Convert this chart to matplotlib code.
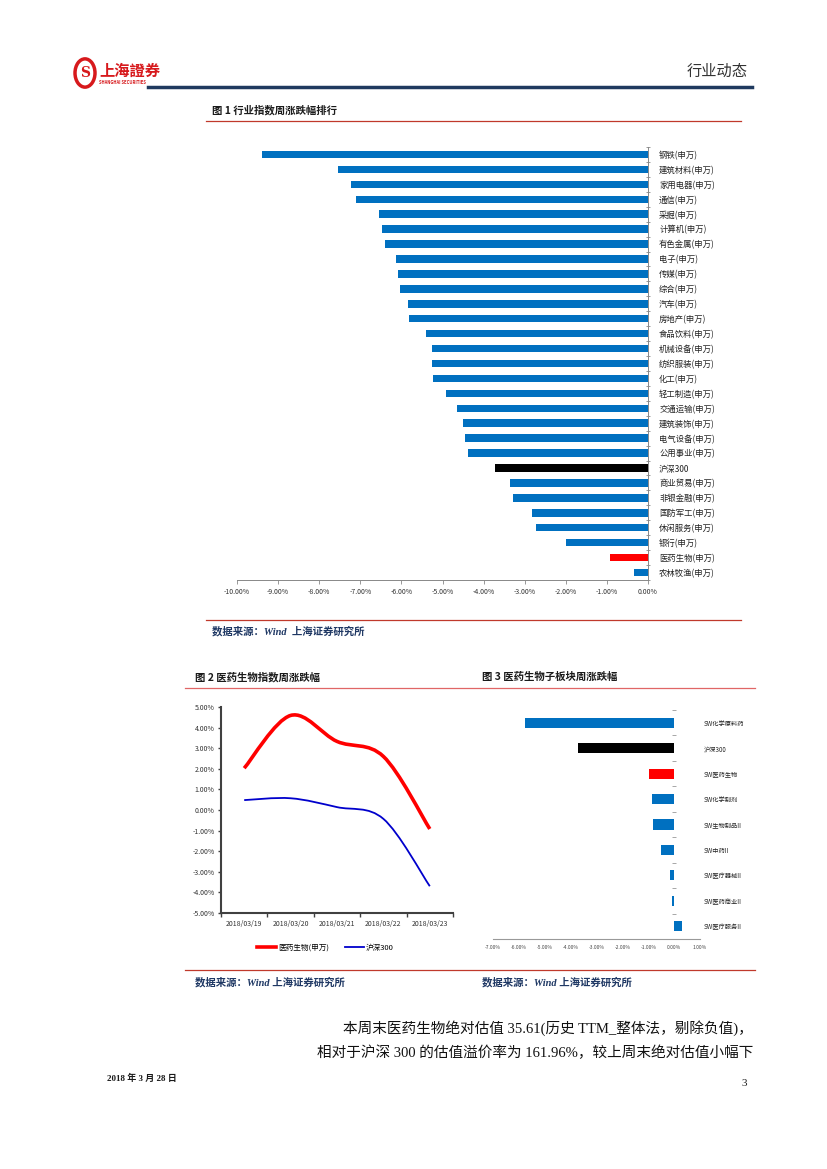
import matplotlib.pyplot as plt
import numpy as np
from matplotlib.path import Path
from matplotlib.patches import PathPatch, Circle
from matplotlib.lines import Line2D

plt.rcParams['font.family'] = ['Noto Sans CJK SC', 'DejaVu Sans']

W, H = 827, 1169

# 图1 行业指数周涨跌幅 (%)
industries = ['钢铁(申万)', '建筑材料(申万)', '家用电器(申万)', '通信(申万)', '采掘(申万)',
              '计算机(申万)', '有色金属(申万)', '电子(申万)', '传媒(申万)', '综合(申万)',
              '汽车(申万)', '房地产(申万)', '食品饮料(申万)', '机械设备(申万)', '纺织服装(申万)',
              '化工(申万)', '轻工制造(申万)', '交通运输(申万)', '建筑装饰(申万)', '电气设备(申万)',
              '公用事业(申万)', '沪深300', '商业贸易(申万)', '非银金融(申万)', '国防军工(申万)',
              '休闲服务(申万)', '银行(申万)', '医药生物(申万)', '农林牧渔(申万)']
ind_chg = [-9.39, -7.54, -7.23, -7.10, -6.55, -6.47, -6.40, -6.13, -6.08, -6.03,
           -5.84, -5.82, -5.40, -5.26, -5.26, -5.23, -4.91, -4.65, -4.50, -4.45,
           -4.38, -3.72, -3.36, -3.28, -2.82, -2.73, -2.00, -0.92, -0.34]

# 图2 医药生物指数周涨跌幅 (%)
dates = ['2018/03/19', '2018/03/20', '2018/03/21', '2018/03/22', '2018/03/23']
med_bio = [2.03, 4.59, 3.33, 2.60, -0.92]
hs300 = [0.48, 0.57, 0.14, -0.43, -3.70]

# 图3 医药生物子板块周涨跌幅 (%)
sub_names = ['SW化学原料药', '沪深300', 'SW医药生物', 'SW化学制剂', 'SW生物制品II',
             'SW中药II', 'SW医疗器械II', 'SW医药商业II', 'SW医疗服务II']
sub_chg = [-5.75, -3.73, -0.96, -0.85, -0.81, -0.50, -0.15, -0.09, 0.30]

BLUE = '#0070C0'
NAVY = '#1F3864'
RED_LINE = '#C0392B'


def bar_color(name):
    if name == '沪深300':
        return 'black'
    if name.startswith('医药生物') or name == 'SW医药生物':
        return '#FF0000'
    return BLUE


def box(x0, y0, x1, y1):
    return [x0 / W, 1 - y1 / H, (x1 - x0) / W, (y1 - y0) / H]


def hline(x0, x1, y, color, lw):
    fig.add_artist(Line2D([x0 / W, x1 / W], [1 - y / H, 1 - y / H], color=color, lw=lw))


def text(x, y, s, **kw):
    fig.text(x / W, 1 - y / H, s, **kw)


def smooth_path(xs, ys):
    # Excel-style smoothed line: Catmull-Rom turned into cubic Bezier pieces
    pts = np.column_stack([xs, ys]).astype(float)
    verts = [pts[0]]
    codes = [Path.MOVETO]
    for i in range(len(pts) - 1):
        p0 = pts[i - 1] if i > 0 else pts[i]
        p1, p2 = pts[i], pts[i + 1]
        p3 = pts[i + 2] if i + 2 < len(pts) else pts[i + 1]
        c1 = p1 + (p2 - p0) / 6
        c2 = p2 - (p3 - p1) / 6
        verts += [c1, c2, p2]
        codes += [Path.CURVE4] * 3
    return Path(verts, codes)


fig = plt.figure(figsize=(8.27, 11.69), dpi=100)

# ---- page header ----
fig.add_artist(Circle((85 / W, 1 - 73 / H), 10 / W, transform=fig.transFigure,
                      fill=False, ec='#D7191C', lw=2.5))
text(85, 73, 'S', color='#D7191C', fontsize=10, fontweight='bold', ha='center', va='center',
     family=['DejaVu Serif'])
text(99, 71, '上海證券', color='#D7191C', fontsize=11, fontweight='bold', va='center',
     family=['Noto Sans CJK TC', 'DejaVu Sans'])
text(99, 82, 'SHANGHAI SECURITIES', color='#D7191C', fontsize=3, fontweight='bold', va='center')
text(748, 71, '行业动态', color='#333333', fontsize=11, ha='right', va='center')
hline(148, 752, 87, '#1F3A5F', 2.5)

# ---- figure 1 ----
text(212, 110, '图 1 行业指数周涨跌幅排行', color='#1a1a1a', fontsize=7.5, fontweight='bold',
     va='center')
hline(206, 741, 121, RED_LINE, 0.9)

ax1 = fig.add_axes(box(237, 147, 648, 580))
n = len(industries)
ax1.barh(np.arange(n), ind_chg, height=0.5, color=[bar_color(s) for s in industries])
ax1.set_xlim(-10, 0)
ax1.set_ylim(n - 0.5, -0.5)
ax1.set_xticks(np.arange(-10, 0.5, 1))
ax1.xaxis.set_major_formatter(plt.FuncFormatter(lambda v, _: '{:.2f}%'.format(v)))
ax1.yaxis.tick_right()
ax1.set_yticks(np.arange(n))
ax1.set_yticklabels(industries)
ax1.set_yticks(np.arange(n + 1) - 0.5, minor=True)
ax1.tick_params(axis='y', which='major', length=0, pad=8, labelsize=6, labelcolor='#222222')
ax1.tick_params(axis='y', which='minor', length=3, direction='inout', color='#888888', width=0.6)
ax1.tick_params(axis='x', length=3, color='#888888', width=0.6, labelsize=5, labelcolor='#333333',
                pad=3)
for side in ['top', 'left']:
    ax1.spines[side].set_visible(False)
for side in ['right', 'bottom']:
    ax1.spines[side].set_color('#888888')
    ax1.spines[side].set_linewidth(0.7)

hline(206, 741, 620, RED_LINE, 0.9)
text(212, 631, '数据来源：Wind  上海证券研究所', color=NAVY, fontsize=7.5, fontweight='bold',
     style='italic', va='center', family=['Liberation Serif', 'Noto Sans CJK SC'])

# ---- figure 2 / figure 3 titles ----
text(195, 677, '图 2 医药生物指数周涨跌幅', color='#1a1a1a', fontsize=7.5, fontweight='bold',
     va='center')
text(482, 677, '图 3 医药生物子板块周涨跌幅', color='#1a1a1a', fontsize=7.5, fontweight='bold',
     va='center')
hline(185, 755, 688, '#E06666', 0.9)

# ---- figure 2 ----
ax2 = fig.add_axes(box(221, 707, 453, 913))
x = np.arange(len(dates))
ax2.add_patch(PathPatch(smooth_path(x, med_bio), fill=False, ec='#FF0000', lw=2.6))
ax2.add_patch(PathPatch(smooth_path(x, hs300), fill=False, ec='#0000CC', lw=1.3))
ax2.set_xlim(-0.5, len(dates) - 0.5)
ax2.set_ylim(-5, 5)
ax2.set_yticks(np.arange(-5, 5.5, 1))
ax2.yaxis.set_major_formatter(plt.FuncFormatter(lambda v, _: '{:.2f}%'.format(v)))
ax2.set_xticks(x)
ax2.set_xticklabels(dates)
ax2.set_xticks(np.arange(len(dates) + 1) - 0.5, minor=True)
ax2.tick_params(axis='x', which='major', length=0, labelsize=5, labelcolor='#333333', pad=5)
ax2.tick_params(axis='x', which='minor', length=3, color='#404040', width=1)
ax2.tick_params(axis='y', length=2.5, color='#404040', width=1, labelsize=5,
                labelcolor='#333333', pad=2)
for side in ['top', 'right']:
    ax2.spines[side].set_visible(False)
for side in ['left', 'bottom']:
    ax2.spines[side].set_color('#404040')
    ax2.spines[side].set_linewidth(1.5)
handles = [Line2D([], [], color='#FF0000', lw=2.6), Line2D([], [], color='#0000CC', lw=1.3)]
ax2.legend(handles, ['医药生物(申万)', '沪深300'], loc='center', bbox_to_anchor=(0.45, -0.17),
           ncol=2, frameon=False, fontsize=5.5, handlelength=2.5, columnspacing=2,
           handletextpad=0.3)

# ---- figure 3 ----
ax3 = fig.add_axes(box(493, 710, 700, 939))
m = len(sub_names)
ax3.barh(np.arange(m), sub_chg, height=0.4, color=[bar_color(s) for s in sub_names])
ax3.set_xlim(-7, 1)
ax3.set_ylim(m - 0.5, -0.5)
ax3.set_xticks(np.arange(-7, 1.5, 1))
ax3.xaxis.set_major_formatter(plt.FuncFormatter(lambda v, _: '{:.2f}%'.format(v)))
ax3.tick_params(axis='x', length=0, labelsize=3.5, labelcolor='#444444', pad=4)
ax3.yaxis.tick_right()
ax3.spines['right'].set_position(('data', 0))
ax3.spines['right'].set_linewidth(0)
ax3.set_yticks(np.arange(m))
ax3.set_yticklabels(sub_names)
ax3.set_yticks(np.arange(m + 1) - 0.5, minor=True)
ax3.tick_params(axis='y', which='major', length=0, pad=21, labelsize=4.5, labelcolor='#222222')
ax3.tick_params(axis='y', which='minor', length=2.5, direction='inout', color='#999999', width=0.6)
for side in ['top', 'left']:
    ax3.spines[side].set_visible(False)
ax3.spines['bottom'].set_color('#999999')
ax3.spines['bottom'].set_linewidth(0.8)

hline(185, 755, 970, RED_LINE, 0.9)
for xx in (195, 482):
    text(xx, 982, '数据来源：Wind 上海证券研究所', color=NAVY, fontsize=7.5, fontweight='bold',
         style='italic', va='center', family=['Liberation Serif', 'Noto Sans CJK SC'])

# ---- body text and footer ----
body_font = ['Liberation Serif', 'Noto Sans CJK SC']
text(753, 1028, '本周末医药生物绝对估值 35.61(历史 TTM_整体法，剔除负值)，', fontsize=10.5,
     ha='right', va='center', color='#111111', family=body_font)
text(753, 1053, '相对于沪深 300 的估值溢价率为 161.96%，较上周末绝对估值小幅下', fontsize=10.5,
     ha='right', va='center', color='#111111', family=body_font)
text(107, 1078, '2018 年 3 月 28 日', fontsize=6.5, fontweight='bold', va='center',
     color='#1a1a1a', family=body_font)
text(747, 1083, '3', fontsize=8, ha='right', va='center', color='#1a1a1a', family=body_font)

fig.savefig('out.png', dpi=100)
